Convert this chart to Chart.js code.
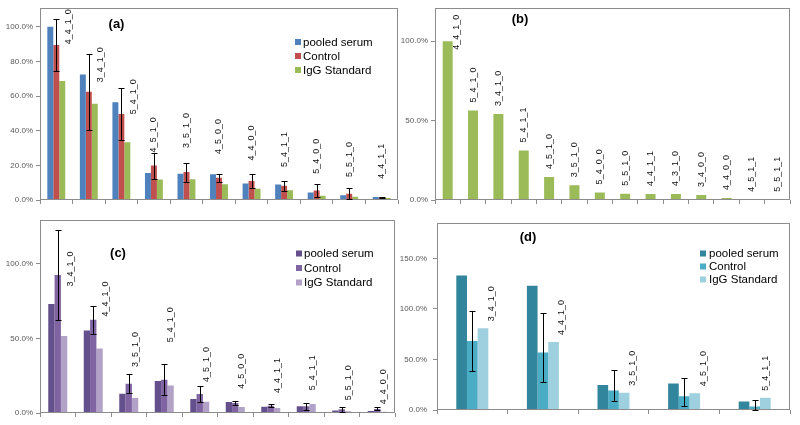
<!DOCTYPE html>
<html>
<head>
<meta charset="utf-8">
<script src="https://cdn.jsdelivr.net/npm/chart.js@4.4.1/dist/chart.umd.min.js"></script>
<style>
html, body { margin: 0; padding: 0; background: #fff; }
#wrap { position: relative; width: 800px; height: 425px; overflow: hidden; }
canvas { position: absolute; }
</style>
</head>
<body>
<div id="wrap">
  <canvas id="chartA" width="400" height="212" style="left:0;top:0"></canvas>
  <canvas id="chartB" width="400" height="212" style="left:400px;top:0"></canvas>
  <canvas id="chartC" width="400" height="213" style="left:0;top:212px"></canvas>
  <canvas id="chartD" width="400" height="213" style="left:400px;top:212px"></canvas>
</div>
<script>
const seriesNames = ['pooled serum', 'Control', 'IgG Standard'];

// panel (a)
const catsA = ['4_4_1_0', '3_4_1_0', '5_4_1_0', '4_5_1_0', '3_5_1_0', '4_5_0_0', '4_4_0_0', '5_4_1_1', '5_4_0_0', '5_5_1_0', '4_4_1_1'];
const pooledA = [100, 72.5, 56.5, 15.6, 15.2, 14.8, 9.5, 8.9, 4.4, 2.7, 1.7];
const controlA = [89.5, 62.5, 49.7, 19.9, 16.1, 12.9, 11, 8.2, 5.5, 3.6, 1.7];
const iggA = [68.7, 55.6, 33.4, 11.8, 12, 9.1, 6.5, 5.7, 2.5, 1.9, 1.1];
const errA = [15, 22, 15.2, 7.5, 5.5, 2.3, 4, 3, 3.6, 3.3, 0.3];
const labelLevelA = [90, 68, 49.5, 27.5, 30, 26.6, 22.8, 19, 15.2, 13.3, 12.3];
const ticksA = [0, 20, 40, 60, 80, 100];

// panel (b)
const catsB = ['4_4_1_0', '5_4_1_0', '3_4_1_0', '5_4_1_1', '4_5_1_0', '3_5_1_0', '5_4_0_0', '5_5_1_0', '4_4_1_1', '4_3_1_0', '3_4_0_0', '4_4_0_0', '4_5_1_1', '5_5_1_1'];
const iggB = [100, 56.3, 54.2, 31.1, 14.5, 9.3, 4.8, 3.9, 3.7, 3.7, 3.1, 1.2, 0.2, 0.1];
const ticksB = [0, 50, 100];

// panel (c)
const catsC = ['3_4_1_0', '4_4_1_0', '3_5_1_0', '5_4_1_0', '4_5_1_0', '4_5_0_0', '4_4_1_1', '5_4_1_1', '5_5_1_0', '4_4_0_0'];
const pooledC = [73.2, 55.4, 12.9, 21.4, 9.4, 7.4, 4.2, 4.5, 1.6, 1.3];
const controlC = [92.6, 62.5, 19.6, 22.3, 12.7, 6.7, 4.9, 4.5, 2.5, 2.7];
const iggC = [51.6, 43.3, 10, 18.5, 7.6, 4, 3.3, 6, 1.1, 0.9];
const errC = [30, 9.2, 6.4, 10.3, 5.6, 1.2, 1, 2.2, 1.8, 1];
const labelLevelC = [84.8, 64.7, 30.8, 47.5, 20.8, 16.3, 13.4, 15.2, 8.5, 5.8];
const ticksC = [0, 50, 100];

// panel (d)
const catsD = ['3_4_1_0', '4_4_1_0', '3_5_1_0', '4_5_1_0', '5_4_1_1'];
const pooledD = [133.2, 123, 24.8, 26.3, 8.4];
const controlD = [68.2, 57, 19.3, 13.5, 3.5];
const iggD = [80.8, 67.3, 17, 16.7, 12.2];
const errUpD = [29.6, 39, 20.3, 18, 6.1];
const errDownD = [29.6, 29.6, 10.3, 10, 3.5];
const ticksD = [0, 50, 100, 150];

const FONT = "'Liberation Sans', Arial, sans-serif";
const AXIS_GRAY = '#8c8c8c';

// frame, error bars, rotated category labels, legend and panel letter
function panelExtras(cfg) {
    return {
        id: 'panelExtras',
        afterDatasetsDraw(chart) {
            const ctx = chart.ctx;
            const area = chart.chartArea;
            const y = chart.scales.y;
            const sets = chart.data.datasets;
            ctx.save();

            ctx.strokeStyle = AXIS_GRAY;
            ctx.lineWidth = 1;
            ctx.strokeRect(Math.round(area.left) + 0.5, Math.round(area.top) + 0.5,
                Math.round(area.right - area.left) - 1, Math.round(area.bottom - area.top) - 1);

            // error bars
            if (cfg.errPlus) {
                const meta = chart.getDatasetMeta(cfg.errOn);
                const vals = sets[cfg.errOn].data;
                ctx.strokeStyle = '#000';
                meta.data.forEach((bar, i) => {
                    const x = Math.round(bar.x) + 0.5;
                    const top = Math.round(y.getPixelForValue(vals[i] + cfg.errPlus[i])) + 0.5;
                    const bot = Math.round(y.getPixelForValue(Math.max(0, vals[i] - cfg.errMinus[i]))) + 0.5;
                    ctx.beginPath();
                    ctx.moveTo(x, top); ctx.lineTo(x, bot);
                    ctx.moveTo(x - 3, top); ctx.lineTo(x + 3, top);
                    ctx.moveTo(x - 3, bot); ctx.lineTo(x + 3, bot);
                    ctx.stroke();
                });
            }

            // category labels
            ctx.font = '9px ' + FONT;
            ctx.fillStyle = '#111';
            ctx.textAlign = 'left';
            ctx.textBaseline = 'middle';
            const anchorMeta = chart.getDatasetMeta(cfg.labelOn);
            const lastMeta = chart.getDatasetMeta(sets.length - 1);
            chart.data.labels.forEach((lab, i) => {
                const w = ctx.measureText(lab).width;
                const bar = anchorMeta.data[i];
                let x = bar.x;
                let bottom = cfg.labelLevels ? y.getPixelForValue(cfg.labelLevels[i]) : bar.y - cfg.labelGap;
                let tallest = area.bottom;
                sets.forEach((ds, d) => { tallest = Math.min(tallest, chart.getDatasetMeta(d).data[i].y); });
                if (cfg.errPlus) {
                    tallest = Math.min(tallest, y.getPixelForValue(sets[cfg.errOn].data[i] + cfg.errPlus[i]));
                }
                const last = lastMeta.data[i];
                const groupRight = last.x + last.width / 2;
                if (bottom - w < area.top) {
                    x = groupRight + 4;
                    bottom = area.top + 7 + w;
                } else if (bottom > tallest + 1) {
                    x = groupRight + 3;
                }
                ctx.save();
                ctx.translate(x, bottom);
                ctx.rotate(-Math.PI / 2);
                ctx.fillText(lab, 0, 0);
                ctx.restore();
            });

            // legend
            if (cfg.legend) {
                ctx.font = '11.5px ' + FONT;
                ctx.fillStyle = '#000';
                sets.forEach((ds, d) => {
                    const ly = cfg.legend.y + d * cfg.legend.gap;
                    ctx.fillStyle = ds.backgroundColor;
                    ctx.fillRect(cfg.legend.x, ly - 3, 6, 6);
                    ctx.fillStyle = '#000';
                    ctx.fillText(ds.label, cfg.legend.x + cfg.legend.textDx, ly + 0.5);
                });
            }

            // panel letter
            ctx.font = 'bold 13px ' + FONT;
            ctx.fillStyle = '#000';
            ctx.textAlign = 'center';
            ctx.fillText(cfg.title, cfg.titleX, cfg.titleY);
            ctx.restore();
        }
    };
}

function makePanel(id, opts) {
    const datasets = opts.series.map((s, i) => ({
        label: s.name,
        data: s.data,
        backgroundColor: s.color,
        borderWidth: 0,
        categoryPercentage: opts.groupWidth,
        barPercentage: 1
    }));
    return new Chart(document.getElementById(id), {
        type: 'bar',
        data: { labels: opts.labels, datasets: datasets },
        options: {
            responsive: false,
            animation: false,
            devicePixelRatio: 1,
            layout: { padding: { top: opts.padTop, right: opts.padRight, left: 0, bottom: 0 } },
            plugins: { legend: { display: false }, tooltip: { enabled: false } },
            scales: {
                x: {
                    grid: { offset: true, drawOnChartArea: false, tickLength: 4, color: AXIS_GRAY },
                    border: { display: false },
                    ticks: { callback: () => '' },
                    afterFit: s => { s.height = opts.xHeight; }
                },
                y: {
                    min: 0,
                    max: opts.max,
                    grid: { drawOnChartArea: false, tickLength: 4, color: AXIS_GRAY },
                    border: { display: false },
                    afterBuildTicks: s => { s.ticks = opts.ticks.map(v => ({ value: v })); },
                    ticks: {
                        callback: v => v.toFixed(1) + '%',
                        font: { size: 8, family: FONT },
                        color: '#595959',
                        padding: opts.tickPad
                    },
                    afterFit: s => { s.width = opts.yWidth; }
                }
            }
        },
        plugins: [panelExtras(opts.extras)]
    });
}

makePanel('chartA', {
    labels: catsA,
    series: [
        { name: seriesNames[0], data: pooledA, color: '#4F81BD' },
        { name: seriesNames[1], data: controlA, color: '#C0504D' },
        { name: seriesNames[2], data: iggA, color: '#9BBB59' }
    ],
    groupWidth: 0.55, max: 111, ticks: ticksA,
    padTop: 5, padRight: 2, xHeight: 12, yWidth: 40, tickPad: 3,
    extras: {
        errOn: 1, errPlus: errA, errMinus: errA,
        labelOn: 1, labelLevels: labelLevelA,
        legend: { x: 295, y: 42, gap: 14, textDx: 8 },
        title: '(a)', titleX: 116.5, titleY: 24
    }
});

makePanel('chartB', {
    labels: catsB,
    series: [
        { name: seriesNames[2], data: iggB, color: '#9BBB59' }
    ],
    groupWidth: 0.394, max: 121, ticks: ticksB,
    padTop: 5, padRight: 10, xHeight: 12, yWidth: 35, tickPad: 3,
    extras: {
        labelOn: 0, labelGap: 8,
        title: '(b)', titleX: 120, titleY: 19.5
    }
});

makePanel('chartC', {
    labels: catsC,
    series: [
        { name: seriesNames[0], data: pooledC, color: '#64508C' },
        { name: seriesNames[1], data: controlC, color: '#8064A2' },
        { name: seriesNames[2], data: iggC, color: '#B3A2C7' }
    ],
    groupWidth: 0.535, max: 129.6, ticks: ticksC,
    padTop: 7, padRight: 5, xHeight: 12, yWidth: 40, tickPad: 3,
    extras: {
        errOn: 1, errPlus: errC, errMinus: errC,
        labelOn: 2, labelLevels: labelLevelC,
        legend: { x: 296, y: 41.5, gap: 14.5, textDx: 8 },
        title: '(c)', titleX: 118, titleY: 41
    }
});

makePanel('chartD', {
    labels: catsD,
    series: [
        { name: seriesNames[0], data: pooledD, color: '#31859C' },
        { name: seriesNames[1], data: controlD, color: '#4BACC6' },
        { name: seriesNames[2], data: iggD, color: '#9FD0DF' }
    ],
    groupWidth: 0.453, max: 185.3, ticks: ticksD,
    padTop: 6, padRight: 10, xHeight: 15, yWidth: 37, tickPad: 6,
    extras: {
        errOn: 1, errPlus: errUpD, errMinus: errDownD,
        labelOn: 2, labelGap: 7,
        legend: { x: 300, y: 41.5, gap: 13, textDx: 9 },
        title: '(d)', titleX: 128, titleY: 25
    }
});
</script>
</body>
</html>
